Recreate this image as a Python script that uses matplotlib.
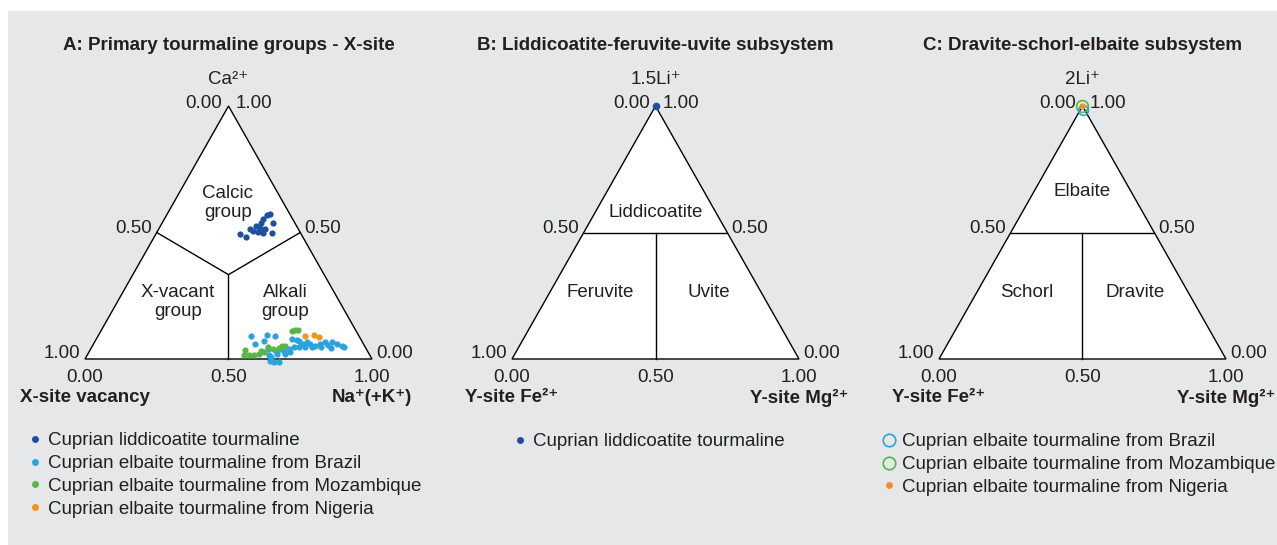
import numpy as np
import matplotlib
matplotlib.use('Agg')
import matplotlib.pyplot as plt
from matplotlib.patches import Rectangle
from matplotlib.lines import Line2D

plt.rcParams['font.family'] = ['Liberation Sans', 'DejaVu Sans']

# ---------------- data ----------------
# Panel A: X-site composition (fractions): Ca (top), Na(+K) (right); vacancy = 1 - Ca - Na
lidd_ca = [0.569, 0.573, 0.553, 0.537, 0.537, 0.525, 0.517, 0.513, 0.513, 0.501,
           0.493, 0.497, 0.497, 0.481, 0.505]
lidd_na = [0.351, 0.359, 0.345, 0.346, 0.387, 0.334, 0.352, 0.371, 0.319, 0.353,
           0.295, 0.373, 0.404, 0.322, 0.334]

braz_ca = [0.090, 0.094, 0.090, 0.070, 0.058, 0.078, 0.038, 0.014, 0.006, -0.010,
           -0.010, -0.006, 0.030, 0.018, 0.038, 0.046, 0.070, 0.058, 0.046, 0.066,
           0.058, 0.050, 0.046, 0.066, 0.058, 0.050, 0.046, 0.046, 0.046, 0.066,
           0.054, 0.038, 0.018, 0.030, 0.060, 0.045, 0.075, 0.026]
braz_na = [0.533, 0.586, 0.616, 0.588, 0.563, 0.681, 0.618, 0.633, 0.645, 0.680,
           0.663, 0.647, 0.678, 0.687, 0.691, 0.704, 0.710, 0.726, 0.722, 0.739,
           0.754, 0.775, 0.801, 0.826, 0.848, 0.869, 0.881, 0.742, 0.767, 0.802,
           0.818, 0.660, 0.659, 0.652, 0.790, 0.835, 0.700, 0.700]

moz_ca = [0.034, 0.014, 0.014, 0.014, 0.018, 0.026, 0.046, 0.042, 0.050, 0.050,
          0.110, 0.114, 0.114, 0.030, 0.038]
moz_na = [0.540, 0.564, 0.547, 0.581, 0.597, 0.610, 0.614, 0.654, 0.661, 0.671,
          0.665, 0.674, 0.684, 0.598, 0.635]

nig_ca = [0.090, 0.094, 0.086]
nig_na = [0.720, 0.750, 0.771]

# Panel B: 1.5Li (top), Y-site Mg (right)
lidd_li_b = [1.0]
lidd_mg_b = [0.0]

# Panel C: 2Li (top), Y-site Mg (right)
moz_li_c = [1.0]
moz_mg_c = [0.0]
braz_li_c = [0.985]
braz_mg_c = [0.008]
nig_li_c = [1.0]
nig_mg_c = [0.0]

titles = ["A: Primary tourmaline groups - X-site",
          "B: Liddicoatite-feruvite-uvite subsystem",
          "C: Dravite-schorl-elbaite subsystem"]
top_labels = ["Ca\u00b2\u207a", "1.5Li\u207a", "2Li\u207a"]
left_labels = ["X-site vacancy", "Y-site Fe\u00b2\u207a", "Y-site Fe\u00b2\u207a"]
right_labels = ["Na\u207a(+K\u207a)", "Y-site Mg\u00b2\u207a", "Y-site Mg\u00b2\u207a"]

C_LIDD = '#1d4f9c'
C_BRAZ = '#2aa3de'
C_MOZ = '#57b647'
C_NIG = '#f5921e'
TXT = '#231f20'

# ---------------- layout ----------------
W, H = 1277, 545
FS = 13.5
SX, SY = 287, 253
BASE = 359
XL = (-0.3, 1.3)
YL = (-0.45, 1.25)


def tern(top, right):
    top = np.asarray(top, dtype=float)
    right = np.asarray(right, dtype=float)
    return right + top / 2.0, top


fig = plt.figure(figsize=(W / 100, H / 100), dpi=100)
fig.patch.set_facecolor('white')
fig.patches.append(Rectangle((8 / W, 0), 1 - 8 / W, (H - 11) / H,
                             transform=fig.transFigure, facecolor='#e6e7e8',
                             edgecolor='none', zorder=-10))


def make_panel(x0):
    left = x0 + XL[0] * SX
    width = (XL[1] - XL[0]) * SX
    bottom = (H - BASE) + YL[0] * SY
    height = (YL[1] - YL[0]) * SY
    ax = fig.add_axes([left / W, bottom / H, width / W, height / H])
    ax.set_xlim(XL)
    ax.set_ylim(YL)
    ax.axis('off')
    ax.fill([0, 1, 0.5], [0, 0, 1], facecolor='white', edgecolor='black',
            lw=1.0, zorder=1)
    return ax


def lab(ax, s, xy, dx, dy, ha='center', va='center', **kw):
    ax.annotate(s, xy=xy, xytext=(dx, dy), textcoords='offset pixels',
                ha=ha, va=va, fontsize=FS, color=TXT, **kw)


def decorate(ax, i, top_ticks, mid_ticks):
    lab(ax, titles[i], (0.5, 1), 0, 61, fontweight='bold')
    lab(ax, top_labels[i], (0.5, 1), 0, 26)
    lab(ax, top_ticks[0], (0.5, 1), -6, 2, ha='right')
    lab(ax, top_ticks[1], (0.5, 1), 7, 2, ha='left')
    lab(ax, mid_ticks[0], (0.25, 0.5), -5, 4, ha='right')
    lab(ax, mid_ticks[1], (0.75, 0.5), 4, 4, ha='left')
    lab(ax, "1.00", (0, 0), -5, 5, ha='right')
    lab(ax, "0.00", (1, 0), 4, 5, ha='left')
    lab(ax, "0.00", (0, 0), 0, -19)
    lab(ax, "0.50", (0.5, 0), 0, -19)
    lab(ax, "1.00", (1, 0), 0, -19)
    lab(ax, left_labels[i], (0, 0), 0, -39, fontweight='bold')
    lab(ax, right_labels[i], (1, 0), 0, -39, fontweight='bold')


def region(ax, s, x, y):
    ax.text(x, y, s, ha='center', va='center', fontsize=FS, color=TXT,
            linespacing=1.15, zorder=3)


def legend(ax, handles, labels, x_marker, y_row):
    fs_px = FS * 100 / 72
    hl = 0.6
    x_left = x_marker - hl * fs_px / 2
    y_top = y_row - 7
    ax.legend(handles, labels, loc='upper left',
              bbox_to_anchor=(x_left / W, (H - y_top) / H),
              bbox_transform=fig.transFigure, frameon=False,
              fontsize=FS, handlelength=hl, handletextpad=0.37,
              labelspacing=0.31, borderpad=0, borderaxespad=0,
              labelcolor=TXT)


# ---------- Panel A ----------
axA = make_panel(85)
c = 1 / 3
axA.plot([0.25, 0.5, 0.75], [0.5, c, 0.5], color='black', lw=1.0, zorder=2)
axA.plot([0.5, 0.5], [c, 0], color='black', lw=1.0, zorder=2)
region(axA, "Calcic\ngroup", 0.498, 0.617)
region(axA, "X-vacant\ngroup", 0.324, 0.225)
region(axA, "Alkali\ngroup", 0.697, 0.225)
decorate(axA, 0, ("0.00", "1.00"), ("0.50", "0.50"))

ms = 20
x, y = tern(lidd_ca, lidd_na)
axA.scatter(x, y, s=ms, color=C_LIDD, lw=0, zorder=4)
x, y = tern(braz_ca, braz_na)
axA.scatter(x, y, s=ms, color=C_BRAZ, lw=0, zorder=4)
x, y = tern(moz_ca, moz_na)
axA.scatter(x, y, s=ms, color=C_MOZ, lw=0, zorder=4)
x, y = tern(nig_ca, nig_na)
axA.scatter(x, y, s=ms, color=C_NIG, lw=0, zorder=4)

hA = [Line2D([], [], ls='', marker='o', ms=5, color=col, mew=0)
      for col in (C_LIDD, C_BRAZ, C_MOZ, C_NIG)]
legend(axA, hA, ["Cuprian liddicoatite tourmaline",
                 "Cuprian elbaite tourmaline from Brazil",
                 "Cuprian elbaite tourmaline from Mozambique",
                 "Cuprian elbaite tourmaline from Nigeria"], 35, 439)

# ---------- Panel B ----------
axB = make_panel(512)
axB.plot([0.25, 0.75], [0.5, 0.5], color='black', lw=1.0, zorder=2)
axB.plot([0.5, 0.5], [0.5, 0], color='black', lw=1.0, zorder=2)
region(axB, "Liddicoatite", 0.5, 0.581)
region(axB, "Feruvite", 0.307, 0.261)
region(axB, "Uvite", 0.686, 0.261)
decorate(axB, 1, ("0.00", "1.00"), ("0.50", "0.50"))
x, y = tern(lidd_li_b, lidd_mg_b)
axB.scatter(x, y, s=30, color=C_LIDD, lw=0, zorder=4, clip_on=False)
hB = [Line2D([], [], ls='', marker='o', ms=5, color=C_LIDD, mew=0)]
legend(axB, hB, ["Cuprian liddicoatite tourmaline"], 520, 440)

# ---------- Panel C ----------
axC = make_panel(939)
axC.plot([0.25, 0.75], [0.5, 0.5], color='black', lw=1.0, zorder=2)
axC.plot([0.5, 0.5], [0.5, 0], color='black', lw=1.0, zorder=2)
region(axC, "Elbaite", 0.5, 0.664)
region(axC, "Schorl", 0.307, 0.261)
region(axC, "Dravite", 0.683, 0.261)
decorate(axC, 2, ("0.00", "1.00"), ("0.50", "0.50"))
x, y = tern(moz_li_c, moz_mg_c)
axC.plot(x, y, ls='', marker='o', ms=8.5, mfc='none', mec=C_MOZ, mew=1.2,
         zorder=4, clip_on=False)
x, y = tern(braz_li_c, braz_mg_c)
axC.plot(x, y, ls='', marker='o', ms=7, mfc='none', mec=C_BRAZ, mew=1.2,
         zorder=5, clip_on=False)
x, y = tern(nig_li_c, nig_mg_c)
axC.plot(x, y, ls='', marker='o', ms=4.5, color=C_NIG, mew=0, zorder=6,
         clip_on=False)
hC = [Line2D([], [], ls='', marker='o', ms=9, mfc='none', mec=C_BRAZ, mew=1.2),
      Line2D([], [], ls='', marker='o', ms=9, mfc='none', mec=C_MOZ, mew=1.2),
      Line2D([], [], ls='', marker='o', ms=5, color=C_NIG, mew=0)]
legend(axC, hC, ["Cuprian elbaite tourmaline from Brazil",
                 "Cuprian elbaite tourmaline from Mozambique",
                 "Cuprian elbaite tourmaline from Nigeria"], 889, 440)

fig.savefig('out.png', dpi=100, facecolor=fig.get_facecolor())
